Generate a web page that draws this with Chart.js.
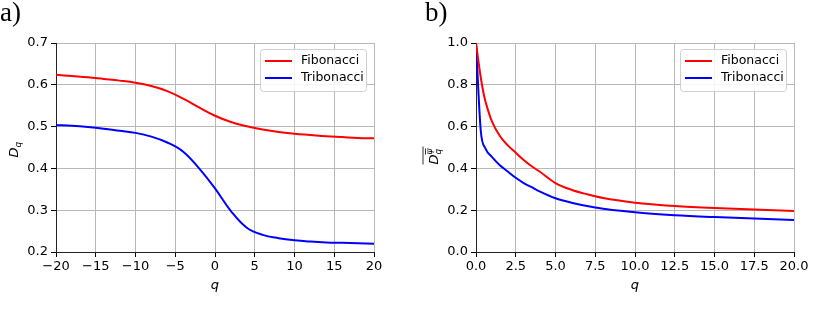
<!DOCTYPE html>
<html>
<head>
<meta charset="utf-8">
<script src="https://cdn.jsdelivr.net/npm/chart.js@4.4.1/dist/chart.umd.min.js"></script>
<style>
  body { margin: 0; background: #fff; }
  #wrap { position: relative; width: 831px; height: 309px; }
  canvas { position: absolute; top: 0; }
  #c1 { left: 0; }
  #c2 { left: 415px; }
</style>
</head>
<body>
<div id="wrap">
  <canvas id="c1" width="415" height="309"></canvas>
  <canvas id="c2" width="416" height="309"></canvas>
</div>
<script>
// panel a) : D_q vs q
const qA = [-20, -18, -16, -14, -12, -10, -8, -6, -4, -2, 0, 2, 4, 6, 8, 10, 12, 14, 16, 18, 20];
const fibA = [0.624, 0.621, 0.618, 0.614, 0.610, 0.605, 0.597, 0.585, 0.567, 0.546, 0.526, 0.511, 0.501, 0.493, 0.487, 0.483, 0.480, 0.477, 0.475, 0.473, 0.472];
const tribA = [0.504, 0.502, 0.499, 0.495, 0.490, 0.485, 0.476, 0.462, 0.440, 0.400, 0.352, 0.298, 0.258, 0.241, 0.233, 0.228, 0.225, 0.223, 0.222, 0.221, 0.220];

// panel b) : averaged D_q vs q
const qFibB = [0, 0.25, 0.5, 0.75, 1, 1.5, 2, 2.5, 3, 3.5, 4, 5, 6, 7, 8, 10, 12.5, 15, 17.5, 20];
const fibB = [1.0, 0.86, 0.75, 0.68, 0.625, 0.555, 0.51, 0.475, 0.44, 0.41, 0.385, 0.33, 0.298, 0.276, 0.258, 0.236, 0.22, 0.21, 0.203, 0.196];
const qTribB = [0, 0.3, 0.6, 1, 1.5, 2, 2.5, 3, 3.5, 4, 5, 6, 7.5, 10, 12.5, 15, 17.5, 20];
const tribB = [1.0, 0.58, 0.495, 0.455, 0.415, 0.385, 0.355, 0.33, 0.31, 0.29, 0.257, 0.236, 0.213, 0.19, 0.176, 0.167, 0.16, 0.153];

const seriesNames = ['Fibonacci', 'Tribonacci'];
const seriesColors = ['#ff0000', '#0000ff'];

const tickFont = { family: 'DejaVu Sans', size: 13 };

function pts(xs, ys) {
  return xs.map((x, i) => ({ x: x, y: ys[i] }));
}

function minus(v) {
  return String(v).replace('-', '\u2212');
}

// legend box inside the plot, top right
const innerLegend = {
  id: 'innerLegend',
  afterDraw(chart) {
    const ctx = chart.ctx;
    const a = chart.chartArea;
    const w = 106, h = 42;
    const x0 = a.right - w - 8, y0 = a.top + 6;
    ctx.save();
    ctx.fillStyle = 'rgba(255,255,255,0.85)';
    ctx.strokeStyle = '#d0d0d0';
    ctx.lineWidth = 1;
    ctx.beginPath();
    ctx.roundRect(x0 + 0.5, y0 + 0.5, w, h, 3);
    ctx.fill();
    ctx.stroke();
    ctx.font = '12.5px "DejaVu Sans"';
    ctx.textBaseline = 'middle';
    seriesNames.forEach((name, i) => {
      const yy = y0 + 12 + i * 17;
      ctx.strokeStyle = seriesColors[i];
      ctx.lineWidth = 2;
      ctx.beginPath();
      ctx.moveTo(x0 + 5, yy);
      ctx.lineTo(x0 + 32, yy);
      ctx.stroke();
      ctx.fillStyle = '#000';
      ctx.fillText(name, x0 + 41, yy);
    });
    ctx.restore();
  }
};

// panel letter, x title and y title
function labelsPlugin(letter, letterX, yTitle) {
  return {
    id: 'labels',
    afterDraw(chart) {
      const ctx = chart.ctx;
      const a = chart.chartArea;
      ctx.save();
      ctx.fillStyle = '#000';
      ctx.font = '27px "Liberation Serif"';
      ctx.textBaseline = 'alphabetic';
      ctx.textAlign = 'left';
      ctx.fillText(letter, letterX, 21);
      ctx.font = 'italic 13px "DejaVu Sans"';
      ctx.textAlign = 'center';
      ctx.fillText('q', (a.left + a.right) / 2, 289);
      yTitle(ctx, a);
      ctx.restore();
    }
  };
}

function yTitleA(ctx, a) {
  ctx.translate(18, (a.top + a.bottom) / 2 + 3);
  ctx.rotate(-Math.PI / 2);
  ctx.textAlign = 'left';
  ctx.font = 'italic 13px "DejaVu Sans"';
  ctx.fillText('D', -7, 0);
  ctx.font = 'italic 9px "DejaVu Sans"';
  ctx.fillText('q', 3, 3);
}

function yTitleB(ctx, a) {
  ctx.translate(23, (a.top + a.bottom) / 2 + 8);
  ctx.rotate(-Math.PI / 2);
  ctx.textAlign = 'left';
  ctx.font = 'italic 13px "DejaVu Sans"';
  ctx.fillText('D', -9, 0);
  ctx.font = 'italic 9px "DejaVu Sans"';
  ctx.fillText('q', 1, 3);
  ctx.fillText('\u03C8', 1, -6);
  ctx.strokeStyle = '#000';
  ctx.lineWidth = 0.8;
  ctx.beginPath();
  ctx.moveTo(-9, -15);
  ctx.lineTo(9, -15);
  ctx.moveTo(1, -12.5);
  ctx.lineTo(7, -12.5);
  ctx.stroke();
}

function makeChart(id, cfg) {
  const datasets = [
    { label: seriesNames[0], data: pts(cfg.qFib, cfg.fib) },
    { label: seriesNames[1], data: pts(cfg.qTrib, cfg.trib) }
  ].map((d, i) => Object.assign(d, {
    borderColor: seriesColors[i],
    borderWidth: 2,
    pointRadius: 0,
    tension: cfg.tension,
    cubicInterpolationMode: cfg.mode,
    fill: false
  }));

  const gridOpts = { color: '#b8b8b8', lineWidth: 1, tickColor: '#000', tickLength: 5 };

  return new Chart(document.getElementById(id), {
    type: 'line',
    data: { datasets: datasets },
    options: {
      responsive: false,
      animation: false,
      layout: { padding: { left: 0, right: cfg.padRight, top: 43, bottom: 0 } },
      plugins: { legend: { display: false }, tooltip: { enabled: false } },
      scales: {
        x: {
          type: 'linear',
          min: cfg.xMin, max: cfg.xMax,
          afterBuildTicks: s => { s.ticks = cfg.xTicks.map(v => ({ value: v })); },
          afterFit: s => { s.height = 57; },
          grid: gridOpts,
          border: { color: '#222', width: 1 },
          ticks: { font: tickFont, color: '#000', padding: 2, maxRotation: 0, autoSkip: false, callback: cfg.xFmt }
        },
        y: {
          min: cfg.yMin, max: cfg.yMax,
          afterBuildTicks: s => { s.ticks = cfg.yTicks.map(v => ({ value: v })); },
          afterFit: s => { s.width = cfg.yWidth; },
          grid: gridOpts,
          border: { color: '#222', width: 1 },
          ticks: { font: tickFont, color: '#000', padding: 3, callback: v => v.toFixed(1) }
        }
      }
    },
    plugins: [innerLegend, labelsPlugin(cfg.letter, cfg.letterX, cfg.yTitle)]
  });
}

makeChart('c1', {
  qFib: qA, fib: fibA, qTrib: qA, trib: tribA, tension: 0.4, mode: 'default',
  xMin: -20, xMax: 20, xTicks: [-20, -15, -10, -5, 0, 5, 10, 15, 20], xFmt: v => minus(v),
  yMin: 0.2, yMax: 0.7, yTicks: [0.2, 0.3, 0.4, 0.5, 0.6, 0.7],
  padRight: 41, yWidth: 56, letter: 'a)', letterX: 0, yTitle: yTitleA
});

makeChart('c2', {
  qFib: qFibB, fib: fibB, qTrib: qTribB, trib: tribB, tension: 0.3, mode: 'monotone',
  xMin: 0, xMax: 20, xTicks: [0, 2.5, 5, 7.5, 10, 12.5, 15, 17.5, 20], xFmt: v => v.toFixed(1),
  yMin: 0, yMax: 1, yTicks: [0, 0.2, 0.4, 0.6, 0.8, 1.0],
  padRight: 37, yWidth: 61, letter: 'b)', letterX: 10, yTitle: yTitleB
});
</script>
</body>
</html>
